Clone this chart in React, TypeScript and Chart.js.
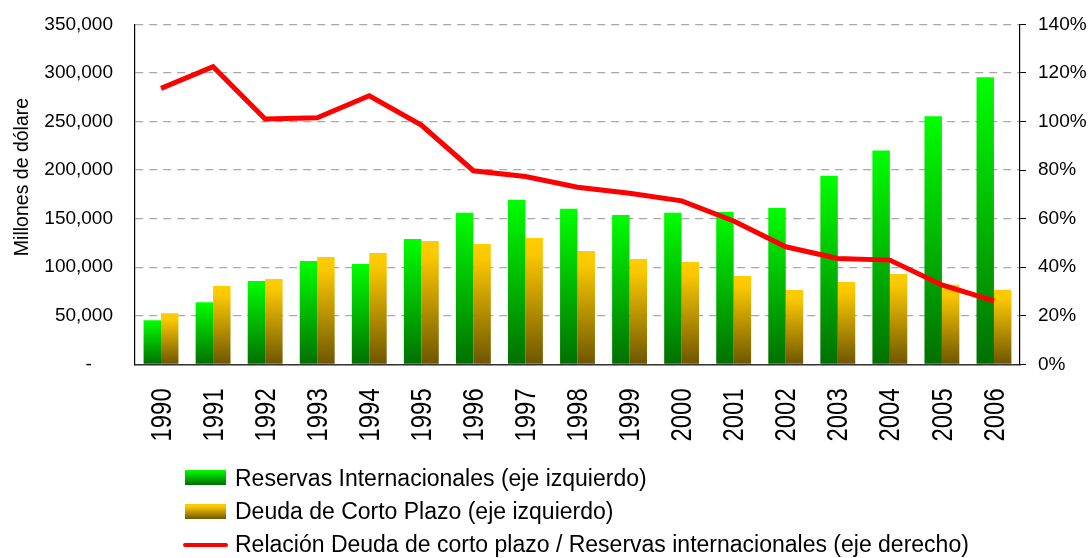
import React, { useEffect, useRef } from 'react';
import { Chart, registerables } from 'chart.js';

Chart.register(...registerables);

const YEARS = ['1990', '1991', '1992', '1993', '1994', '1995', '1996', '1997', '1998', '1999', '2000', '2001', '2002', '2003', '2004', '2005', '2006'];
const RESERVAS = [45400, 64000, 85700, 106300, 103200, 129000, 155900, 169300, 160000, 153800, 155900, 156900, 161000, 194100, 220100, 255300, 295600];
const DEUDA = [52600, 80500, 87800, 110500, 114600, 127000, 123900, 130100, 116700, 108400, 105300, 90900, 76400, 84700, 93000, 81900, 76800];
const RELACION = [113.6, 122.5, 101.0, 101.5, 110.6, 98.5, 79.7, 77.3, 72.9, 70.4, 67.3, 59.0, 48.4, 43.6, 42.9, 32.7, 26.1];

const LEFT_TICKS = ['-    ', '50,000', '100,000', '150,000', '200,000', '250,000', '300,000', '350,000'];
const RIGHT_TICKS = ['0%', '20%', '40%', '60%', '80%', '100%', '120%', '140%'];

const Y_TITLE = 'Millones de dólare';
const LEGEND_RESERVAS = 'Reservas Internacionales (eje izquierdo)';
const LEGEND_DEUDA = 'Deuda de Corto Plazo (eje izquierdo)';
const LEGEND_RELACION = 'Relación Deuda de corto plazo / Reservas internacionales (eje derecho)';

const FONT = "'Liberation Sans', Arial, sans-serif";

function barGradient(stops: [number, string][], fallback: string) {
  return (ctx: any) => {
    const chart = ctx.chart;
    const scale = chart.scales && chart.scales.y;
    if (ctx.type !== 'data' || !scale || !chart.chartArea) return fallback;
    const top = scale.getPixelForValue(ctx.raw);
    const bottom = scale.getPixelForValue(0);
    if (!isFinite(top) || !isFinite(bottom) || top === bottom) return fallback;
    const g = chart.ctx.createLinearGradient(0, top, 0, bottom);
    stops.forEach(([o, c]) => g.addColorStop(o, c));
    return g;
  };
}

const yTitlePlugin = {
  id: 'yTitle',
  afterDraw(chart: any) {
    const c = chart.ctx;
    c.save();
    c.translate(28, 177);
    c.rotate(-Math.PI / 2);
    c.font = `19.5px ${FONT}`;
    c.fillStyle = '#000';
    c.textAlign = 'center';
    c.textBaseline = 'alphabetic';
    c.fillText(Y_TITLE, 0, 0);
    c.restore();
  },
};

// Draws the rotated category labels of the x scale, slightly condensed like the original.
const xLabelsPlugin = {
  id: 'xLabels',
  afterDraw(chart: any) {
    const xs = chart.scales.x;
    const c = chart.ctx;
    const labels = chart.data.labels as string[];
    const top = xs.top + 24;
    c.save();
    c.fillStyle = '#000';
    c.font = `29.5px ${FONT}`;
    c.textAlign = 'right';
    c.textBaseline = 'middle';
    labels.forEach((lab, i) => {
      const x = xs.getPixelForTick(i);
      c.save();
      c.translate(x + 1.5, top);
      c.rotate(-Math.PI / 2);
      c.scale(0.81, 1);
      c.fillText(lab, 0, 0);
      c.restore();
    });
    c.restore();
  },
};

export default function App() {
  const ref = useRef<HTMLCanvasElement | null>(null);

  useEffect(() => {
    document.body.style.margin = '0';
    document.body.style.overflow = 'hidden';
    const canvas = ref.current;
    if (!canvas) return;
    const chart = new Chart(canvas, {
      type: 'bar',
      data: {
        labels: YEARS,
        datasets: [
          {
            type: 'line',
            label: LEGEND_RELACION,
            data: RELACION,
            yAxisID: 'y1',
            borderColor: '#ff0000',
            backgroundColor: '#ff0000',
            borderWidth: 5,
            pointRadius: 0,
            tension: 0,
            order: 0,
          } as any,
          {
            type: 'bar',
            label: LEGEND_RESERVAS,
            data: RESERVAS,
            yAxisID: 'y',
            backgroundColor: barGradient([[0, '#00ff00'], [1, '#007000']], '#00c000'),
            borderWidth: 0,
            categoryPercentage: 0.67,
            barPercentage: 1.0,
            order: 1,
          },
          {
            type: 'bar',
            label: LEGEND_DEUDA,
            data: DEUDA,
            yAxisID: 'y',
            backgroundColor: barGradient([[0, '#ffcc00'], [0.12, '#fbc800'], [1, '#6e5600']], '#e0b000'),
            borderWidth: 0,
            categoryPercentage: 0.67,
            barPercentage: 1.0,
            order: 2,
          },
        ],
      },
      options: {
        responsive: false,
        animation: false,
        devicePixelRatio: 1,
        layout: { padding: { top: 24.3, left: 0, right: 0, bottom: 0 } },
        plugins: {
          legend: { display: false },
          tooltip: { enabled: false },
          title: { display: false },
        },
        scales: {
          x: {
            grid: { display: false, drawTicks: false },
            border: { color: '#333', width: 1.5 },
            ticks: { display: false },
            afterFit: (s: any) => {
              s.height = 558 - 364.3;
            },
          },
          y: {
            position: 'left',
            min: 0,
            max: 350000,
            ticks: {
              stepSize: 50000,
              padding: 0,
              color: '#000',
              font: { family: FONT, size: 19 },
              callback: (_v: any, i: number) => LEFT_TICKS[i],
            },
            grid: {
              color: '#a8a8a8',
              lineWidth: 1.2,
              drawTicks: true,
              tickLength: 22,
              tickColor: 'rgba(0,0,0,0)',
            },
            border: { color: '#000', width: 1.2, dash: [8, 6] },
            afterFit: (s: any) => {
              s.width = 135;
            },
          },
          y1: {
            position: 'right',
            min: 0,
            max: 140,
            ticks: {
              stepSize: 20,
              padding: 12,
              color: '#000',
              font: { family: FONT, size: 19 },
              callback: (_v: any, i: number) => RIGHT_TICKS[i],
            },
            grid: { drawOnChartArea: false, drawTicks: true, tickLength: 6, color: '#000' },
            border: { color: '#000', width: 1.2 },
            afterFit: (s: any) => {
              s.width = 71;
            },
          },
        },
      } as any,
      plugins: [yTitlePlugin, xLabelsPlugin],
    });
    return () => chart.destroy();
  }, []);

  const textStyle: React.CSSProperties = {
    position: 'absolute',
    left: 235,
    fontFamily: FONT,
    fontSize: 23,
    lineHeight: '23px',
    whiteSpace: 'nowrap',
    color: '#000',
  };

  return (
    <div style={{ position: 'relative', width: 1091, height: 558, background: '#fff', overflow: 'hidden' }}>
      <canvas ref={ref} width={1091} height={558} style={{ display: 'block', width: 1091, height: 558 }} />
      <div style={{ position: 'absolute', left: 185, top: 470, width: 41, height: 15, background: 'linear-gradient(#00ff00, #006c00)' }} />
      <div style={{ ...textStyle, top: 466.5 }}>{LEGEND_RESERVAS}</div>
      <div style={{ position: 'absolute', left: 185, top: 504, width: 41, height: 15, background: 'linear-gradient(#ffcc00, #f8c500 20%, #6e5600)' }} />
      <div style={{ ...textStyle, top: 499.8 }}>{LEGEND_DEUDA}</div>
      <div style={{ position: 'absolute', left: 183, top: 543.3, width: 45, height: 4, background: '#ff0000', borderRadius: 2 }} />
      <div style={{ ...textStyle, top: 533.2 }}>{LEGEND_RELACION}</div>
    </div>
  );
}
